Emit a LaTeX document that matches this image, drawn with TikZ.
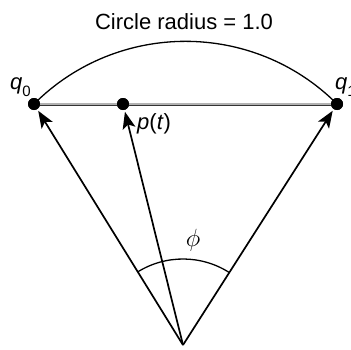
\documentclass[tikz,border=0pt]{standalone}
\usepackage{fontspec}
\setmainfont{Liberation Sans}
\usetikzlibrary{arrows.meta}

\begin{document}
\begin{tikzpicture}[x=1pt, y=1pt,
  dot/.style={circle, fill=black, inner sep=0pt, minimum size=12pt, outer sep=2pt},
  lbl/.style={inner sep=0pt, font=\fontsize{22}{26}\selectfont},
  vec/.style={-{Stealth[length=17pt, width=13pt, inset=4pt]}, line width=1.7pt},
  chord/.style={draw=black!80, double=black!30, double distance=1.2pt, line width=0.9pt},
]
\useasboundingbox (0,0) rectangle (351,349);
\coordinate (o) at (183,4);
\node[dot] (q0) at (34,245) {};
\node[dot] (p) at (123,245) {};
\node[dot] (q1) at (337,245) {};
% great arc and chord
\draw[line width=1.3pt] (q0.center) to[bend left=45] (q1.center);
\draw[chord] (q0.center) -- (q1.center);
\node[dot] at (q0) {}; \node[dot] at (p) {}; \node[dot] at (q1) {};
% vectors from the origin
\draw[vec] (o) -- (q0);
\draw[vec] (o) -- (p);
\draw[vec] (o) -- (q1);
\draw[line width=1.3pt] (o) ++(57.4:86) arc[start angle=57.4, end angle=121.6, radius=86];
% labels
\node[lbl, anchor=base] (ttl) at (184,319) {Circle radius = 1.0};
\node[lbl, anchor=base west] (lq0) at (10,259) {\textit{q}\raisebox{-0.28em}{\fontsize{15}{15}\selectfont 0}};
\node[lbl, anchor=base west] (lq1) at (335,259) {\textit{q}\raisebox{-0.28em}{\fontsize{15}{15}\selectfont 1}};
\node[lbl, anchor=base west] (lp) at (137,220) {\textit{p}(\textit{t})};
\node[lbl, font=\fontsize{27}{30}\selectfont] (phi) at (193,109) {$\phi$};
\end{tikzpicture}
\end{document}
